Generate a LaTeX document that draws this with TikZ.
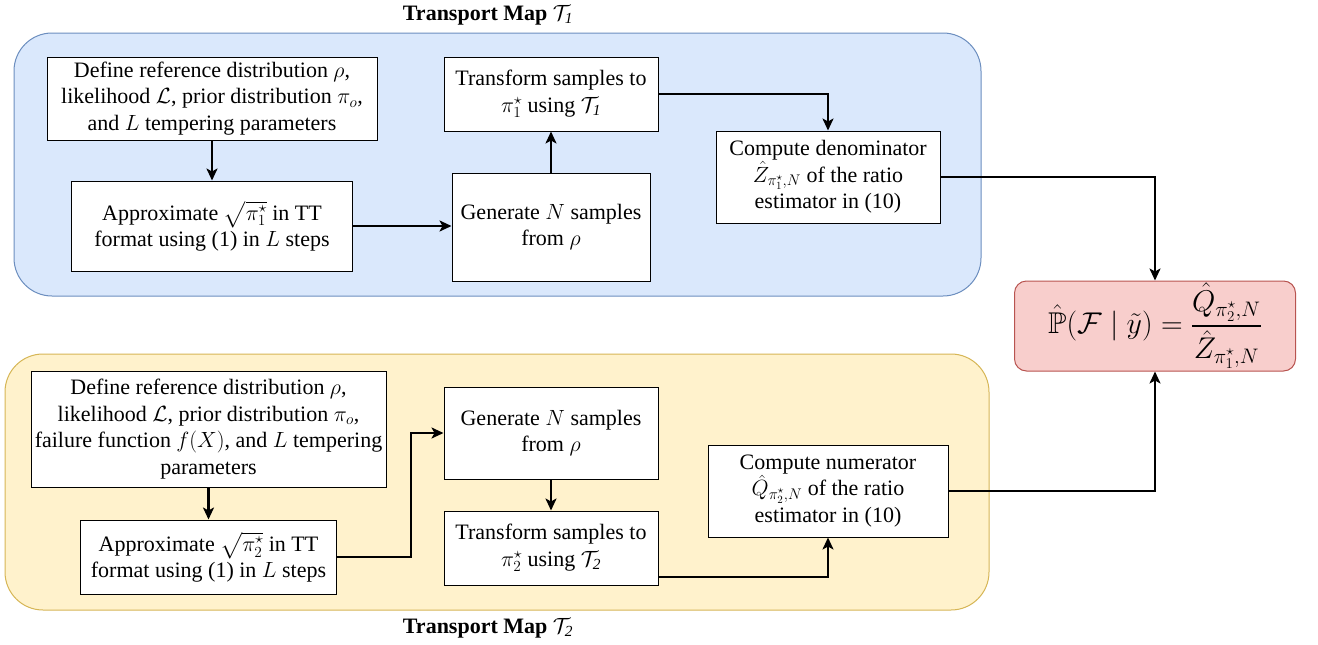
\RequirePackage{fix-cm}
\documentclass[tikz,border=0pt]{standalone}
\usepackage{amsmath,amssymb}
\usepackage{fontspec}
\setmainfont{Liberation Serif}
\usetikzlibrary{arrows.meta}
\definecolor{bluefill}{HTML}{DAE8FC}
\definecolor{blueline}{HTML}{6C8EBF}
\definecolor{yelfill}{HTML}{FFF2CC}
\definecolor{yelline}{HTML}{D6B656}
\definecolor{redfill}{HTML}{F8CECC}
\definecolor{redline}{HTML}{B85450}
\tikzset{
  box/.style={draw=black, line width=1pt, fill=white, align=center, inner sep=0pt,
    font=\rmfamily\fontsize{22}{26.5}\selectfont},
  grpblue/.style={draw=blueline, fill=bluefill, line width=1pt, rounded corners=38pt},
  grpyel/.style={draw=yelline, fill=yelfill, line width=1pt, rounded corners=38pt},
  result/.style={draw=redline, fill=redfill, line width=1pt, rounded corners=12pt,
    inner sep=0pt, font=\rmfamily\fontsize{30}{36}\selectfont},
  title/.style={font=\rmfamily\fontsize{22}{26.5}\selectfont\bfseries, inner sep=0pt},
  conn/.style={line width=2.2pt, -{Stealth[length=12pt,width=11pt,inset=3pt]}},
}
\begin{document}
\begin{tikzpicture}[x=1pt,y=-1pt]
\useasboundingbox (0,0) rectangle (1318,645);
% containers
\draw[grpblue] (14,33) rectangle (981,296);
\draw[grpyel] (5,354) rectangle (989,610);
\node[title] (t1) at (488,15) {Transport Map $\mathcal{T}_{\mathit{1}}$};
\node[title] (t2) at (488,628) {Transport Map $\mathcal{T}_{\mathit{2}}$};
% top group
\node[box, minimum width=330pt, minimum height=83pt] (A1) at (212,98.5)
  {Define reference distribution $\rho$,\\ likelihood $\mathcal{L}$, prior distribution $\pi_o$,\\ and $L$ tempering parameters};
\node[box, minimum width=281pt, minimum height=90pt] (B1) at (212,226)
  {Approximate $\sqrt{\pi_1^\star}$ in TT\\ format using (1) in $L$ steps};
\node[box, minimum width=198pt, minimum height=108pt] (C1) at (551,227)
  {Generate $N$ samples\\ from $\rho$};
\node[box, minimum width=214pt, minimum height=74pt] (D1) at (551,94)
  {Transform samples to\\ $\pi_1^\star$ using $\mathcal{T}_{\mathit{1}}$};
\node[box, minimum width=224pt, minimum height=92pt] (E1) at (828,177)
  {Compute denominator\\ $\hat{Z}_{\pi_1^\star,N}$ of the ratio\\ estimator in (10)};
% result
\node[result, minimum width=281pt, minimum height=90pt] (R) at (1155,326)
  {$\displaystyle \hat{\mathbb{P}}(\mathcal{F}\mid\tilde{y}) = \frac{\hat{Q}_{\pi_2^\star,N}}{\hat{Z}_{\pi_1^\star,N}}$};
% bottom group
\node[box, minimum width=355pt, minimum height=116pt] (A2) at (208.5,429)
  {Define reference distribution $\rho$,\\ likelihood $\mathcal{L}$, prior distribution $\pi_o$,\\ failure function $f(X)$, and $L$ tempering\\ parameters};
\node[box, minimum width=256pt, minimum height=74pt] (B2) at (208.5,557)
  {Approximate $\sqrt{\pi_2^\star}$ in TT\\ format using (1) in $L$ steps};
\node[box, minimum width=214pt, minimum height=92pt] (C2) at (551,433)
  {Generate $N$ samples\\ from $\rho$};
\node[box, minimum width=214pt, minimum height=74pt] (D2) at (551,548)
  {Transform samples to\\ $\pi_2^\star$ using $\mathcal{T}_{\mathit{2}}$};
\node[box, minimum width=240pt, minimum height=92pt] (E2) at (828,491)
  {Compute numerator\\ $\hat{Q}_{\pi_2^\star,N}$ of the ratio\\ estimator in (10)};
\coordinate (k) at (411,0);
% connectors
\draw[conn] (A1.south) -- (A1.south |- B1.north);
\draw[conn] (B1.east) -- (B1.east -| C1.west);
\draw[conn] (C1.north) -- (D1.south);
\draw[conn] (D1.east) -| (E1.north);
\draw[conn] (E1.east) -| (R.north);
\draw[conn] (A2.south) -- (A2.south |- B2.north);
\draw[conn] (B2.east) -- (B2.east -| k) |- (C2.west);
\draw[conn] (C2.south) -- (D2.north);
\draw[conn] (D2.east |- 0,577) -| (E2.south);
\draw[conn] (E2.east) -| (R.south);
\end{tikzpicture}
\end{document}
